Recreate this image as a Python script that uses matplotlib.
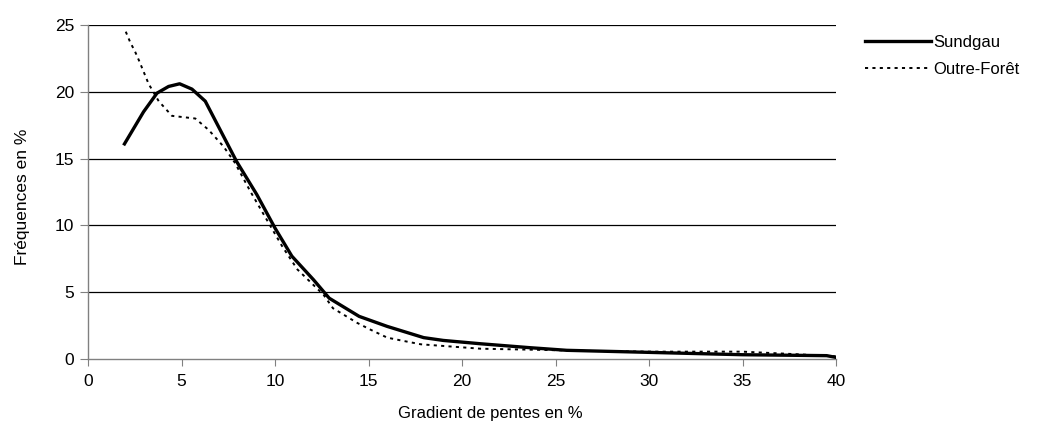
import matplotlib.pyplot as plt

plt.rcParams['font.family'] = ['Liberation Sans', 'DejaVu Sans']

# Sundgau
x_sund = [1.95, 2.97, 3.69, 4.31, 4.9, 5.56, 6.27, 7.94, 9.03, 10.0, 10.9,
          12.06, 12.9, 14.5, 16.0, 17.95, 19.0, 21.0, 23.6, 25.6, 29.9, 35.0,
          39.5, 40.0]
y_sund = [16.1, 18.5, 19.9, 20.4, 20.6, 20.2, 19.3, 14.8, 12.3, 9.8, 7.7,
          5.93, 4.55, 3.19, 2.44, 1.6, 1.39, 1.14, 0.85, 0.65, 0.5, 0.32,
          0.25, 0.12]

# Outre-Forêt
x_outre = [2.02, 2.26, 2.52, 2.74, 3.24, 3.78, 4.49, 5.74, 6.45, 7.25, 7.85,
           8.7, 9.57, 10.4, 11.2, 12.6, 13.1, 14.4, 15.1, 16.0, 16.7, 17.8,
           21.0, 23.6, 27.0, 30.0, 35.0, 38.0, 40.0]
y_outre = [24.5, 23.7, 23.0, 22.3, 20.6, 19.3, 18.2, 18.0, 17.15, 15.9, 14.7,
           12.5, 10.4, 8.4, 6.7, 4.8, 3.8, 2.7, 2.2, 1.6, 1.4, 1.1,
           0.77, 0.7, 0.6, 0.55, 0.55, 0.35, 0.2]

fig = plt.figure(figsize=(10.51, 4.43), dpi=100)
ax = fig.add_axes([88/1051, 1-359/443, (836-88)/1051, (359-25)/443])

for y in [5, 10, 15, 20, 25]:
    ax.axhline(y, color='#000000', lw=0.9, zorder=1)

ax.plot(x_sund, y_sund, color='black', lw=2.4, label='Sundgau', zorder=3,
        solid_joinstyle='round')
ax.plot(x_outre, y_outre, color='black', lw=1.4, ls=(0, (1.6, 2.2)),
        label='Outre-Forêt', zorder=2)

ax.set_xlim(0, 40)
ax.set_ylim(0, 25)
ax.set_xticks(range(0, 41, 5))
ax.set_yticks(range(0, 26, 5))
ax.spines['top'].set_visible(False)
ax.spines['right'].set_visible(False)
for s in ['left', 'bottom']:
    ax.spines[s].set_color('#808080')
    ax.spines[s].set_linewidth(1.0)
ax.tick_params(axis='x', direction='out', length=5, color='#808080',
               labelsize=12.5, pad=6)
ax.tick_params(axis='y', direction='out', length=6, color='#808080',
               labelsize=12.5, pad=4)

ax.set_xlabel('Gradient de pentes en %', fontsize=12, labelpad=12)
ax.xaxis.label.set_x((490-88)/748)
ax.set_ylabel('Fréquences en %', fontsize=12.5, labelpad=18)
ax.yaxis.label.set_y((359-197)/334)

ax.legend(loc='upper left', bbox_to_anchor=(858/1051, 1-28/443),
          bbox_transform=fig.transFigure, frameon=False, fontsize=12,
          handlelength=4.0, handletextpad=0.1, labelspacing=0.75,
          borderaxespad=0)

fig.savefig('out.png', dpi=100)
